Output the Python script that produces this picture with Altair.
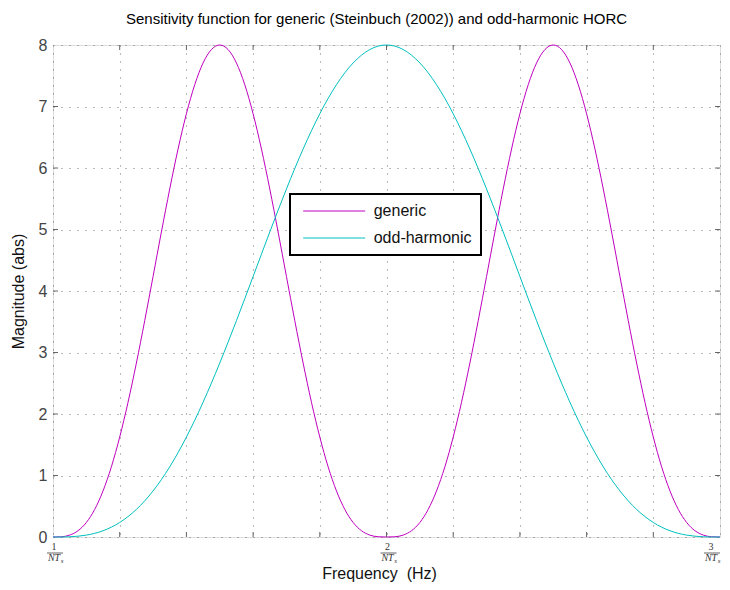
import altair as alt
import pandas as pd

# ---- data ----
freq = [round(1 + 0.025 * i, 3) for i in range(81)]  # in units of 1/(N T_s)

generic = [
    0.000, 0.004, 0.031, 0.102, 0.236, 0.448, 0.749, 1.141, 1.625, 2.191, 2.828,
    3.517, 4.236, 4.959, 5.659, 6.309, 6.882, 7.355, 7.708, 7.926, 8.000,
    7.926, 7.708, 7.355, 6.882, 6.309, 5.659, 4.959, 4.236, 3.517, 2.828,
    2.191, 1.625, 1.141, 0.749, 0.448, 0.236, 0.102, 0.031, 0.004, 0.000,
    0.004, 0.031, 0.102, 0.236, 0.448, 0.749, 1.141, 1.625, 2.191, 2.828,
    3.517, 4.236, 4.959, 5.659, 6.309, 6.882, 7.355, 7.708, 7.926, 8.000,
    7.926, 7.708, 7.355, 6.882, 6.309, 5.659, 4.959, 4.236, 3.517, 2.828,
    2.191, 1.625, 1.141, 0.749, 0.448, 0.236, 0.102, 0.031, 0.004, 0.000,
]

odd_harmonic = [
    0.000, 0.000, 0.004, 0.013, 0.031, 0.059, 0.102, 0.160, 0.236, 0.332,
    0.448, 0.587, 0.749, 0.933, 1.141, 1.372, 1.625, 1.898, 2.191, 2.502,
    2.828, 3.168, 3.517, 3.874, 4.236, 4.599, 4.959, 5.314, 5.659, 5.992,
    6.309, 6.606, 6.882, 7.132, 7.355, 7.548, 7.708, 7.835, 7.926, 7.982,
    8.000,
    7.982, 7.926, 7.835, 7.708, 7.548, 7.355, 7.132, 6.882, 6.606, 6.309,
    5.992, 5.659, 5.314, 4.959, 4.599, 4.236, 3.874, 3.517, 3.168, 2.828,
    2.502, 2.191, 1.898, 1.625, 1.372, 1.141, 0.933, 0.749, 0.587, 0.448,
    0.332, 0.236, 0.160, 0.102, 0.059, 0.031, 0.013, 0.004, 0.000, 0.000,
]

series_names = ["generic", "odd-harmonic"]
series_colors = ["#BF00BF", "#00BFBF"]

x_grid = [1.0, 1.2, 1.4, 1.6, 1.8, 2.0, 2.2, 2.4, 2.6, 2.8, 3.0]
y_ticks = [0, 1, 2, 3, 4, 5, 6, 7, 8]
frac_x = [1, 2, 3]
frac_num = ["1", "2", "3"]
title_text = ["Sensitivity function for generic (Steinbuch (2002)) and odd-harmonic HORC"]

W, H = 667, 492
FONT = "Liberation Sans"
SERIF = "Liberation Serif"
AXC = "#666666"
GRIDC = "#777777"

df = pd.DataFrame({
    "f": freq + freq,
    "mag": generic + odd_harmonic,
    "series": [series_names[0]] * len(freq) + [series_names[1]] * len(freq),
})

xs = alt.Scale(domain=[1, 3], nice=False, zero=False)
ys = alt.Scale(domain=[0, 8], nice=False, zero=False)

x_axis = alt.Axis(
    values=x_grid, labels=False, ticks=False, domain=False,
    grid=True, gridDash=[1, 7], gridColor=GRIDC, gridOpacity=1,
    title="Frequency\u00a0 (Hz)", titleFont=FONT, titleFontSize=16,
    titleFontWeight="normal", titleColor="#111111",
    titleX=326, titleY=36, titleAlign="center", titleBaseline="middle")
y_axis = alt.Axis(
    values=y_ticks, ticks=False, domain=False, format="d",
    grid=True, gridDash=[1, 7], gridColor=GRIDC, gridOpacity=1,
    labelFont=FONT, labelFontSize=16, labelColor="#444444", labelPadding=6,
    title="Magnitude (abs)", titleFont=FONT, titleFontSize=16,
    titleFontWeight="normal", titleColor="#111111",
    titleX=-35, titleY=H / 2, titleAlign="center", titleBaseline="middle")


def X(field):
    return alt.X(field, scale=xs, axis=x_axis)


def Y(field):
    return alt.Y(field, scale=ys, axis=y_axis)


lines = alt.Chart(df).mark_line(strokeWidth=1, interpolate="monotone").encode(
    x=X("f:Q"),
    y=Y("mag:Q"),
    color=alt.Color("series:N",
                    scale=alt.Scale(domain=series_names, range=series_colors),
                    legend=alt.Legend(
                        title=None, orient="none", legendX=237, legendY=149,
                        fillColor="white", strokeColor="black", padding=9,
                        symbolType="M-4.133,0H4.133", symbolSize=225,
                        symbolStrokeWidth=1, symbolOffset=27.2,
                        labelFont=FONT, labelFontSize=16, labelColor="#111111",
                        labelOffset=31.5, rowPadding=11)),
)

# inward tick marks on the box (MATLAB style)
tick_x = pd.DataFrame({"x": x_grid[1:-1]})
tick_y = pd.DataFrame({"y": y_ticks[1:-1]})

bottom_ticks = alt.Chart(tick_x).mark_rule(color=AXC, strokeWidth=1).encode(
    x=X("x:Q"), y=alt.value(H), y2=alt.value(H - 5))
top_ticks = alt.Chart(tick_x).mark_rule(color=AXC, strokeWidth=1).encode(
    x=X("x:Q"), y=alt.value(0), y2=alt.value(5))
left_ticks = alt.Chart(tick_y).mark_rule(color=AXC, strokeWidth=1).encode(
    y=Y("y:Q"), x=alt.value(0), x2=alt.value(5))
right_ticks = alt.Chart(tick_y).mark_rule(color=AXC, strokeWidth=1).encode(
    y=Y("y:Q"), x=alt.value(W), x2=alt.value(W - 5))


# fraction tick labels  k / (N T_s)
def fraction_layers(frame, shift):
    num_text = alt.Chart(frame).mark_text(
        font=SERIF, fontSize=10, color="#333333", baseline="middle",
        dx=1 + shift).encode(x=X("x:Q"), y=alt.value(H + 10), text="num:N")
    bar = alt.Chart(frame).mark_tick(
        orient="horizontal", size=16, thickness=1, color="#222222",
        xOffset=2 + shift).encode(x=X("x:Q"), y=alt.value(H + 16))
    den_text = alt.Chart(frame).mark_text(
        font=SERIF, fontSize=10, fontStyle="italic", color="#333333",
        baseline="middle", dx=1 + shift, text="NT").encode(
        x=X("x:Q"), y=alt.value(H + 21))
    sub_text = alt.Chart(frame).mark_text(
        font=SERIF, fontSize=7, fontStyle="italic", color="#333333",
        baseline="middle", dx=9 + shift, text="s").encode(
        x=X("x:Q"), y=alt.value(H + 24))
    return [num_text, bar, den_text, sub_text]


frac_inner = pd.DataFrame({"x": frac_x[:-1], "num": frac_num[:-1]})
frac_last = pd.DataFrame({"x": frac_x[-1:], "num": frac_num[-1:]})

title_layer = alt.Chart(pd.DataFrame({"t": title_text})).mark_text(
    font=FONT, fontSize=15, color="#000000", align="center",
    baseline="alphabetic").encode(
    text="t:N", x=alt.value(W / 2 - 10), y=alt.value(-21))

layers = [lines, bottom_ticks, top_ticks, left_ticks, right_ticks, title_layer]
layers += fraction_layers(frac_inner, 0)
layers += fraction_layers(frac_last, -10)

chart = alt.layer(*layers).properties(
    width=W, height=H,
    autosize=alt.AutoSizeParams(type="none"),
    padding={"left": 45, "top": 37, "right": 2, "bottom": 45},
).configure_view(
    stroke=AXC, strokeWidth=1
).configure(background="white")

try:
    chart.configure_legend(strokeWidth=2).save(
        "out.html", embed_options={"renderer": "svg", "actions": False})
except Exception:
    chart.save("out.html", embed_options={"renderer": "svg", "actions": False})
